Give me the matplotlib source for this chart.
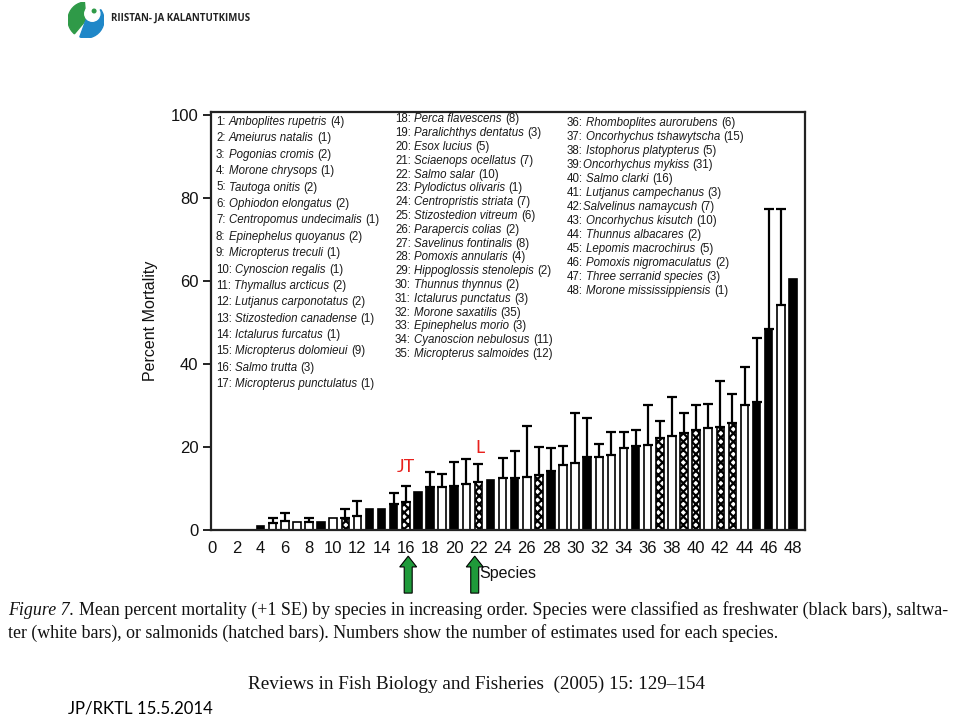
import matplotlib
matplotlib.use('Agg')
import matplotlib.pyplot as plt
from matplotlib.patches import FancyArrow, Wedge, Circle
import numpy as np

# species (ordered by increasing mortality) and number of estimates
species = ['Amboplites rupetris', 'Ameiurus natalis', 'Pogonias cromis', 'Morone chrysops',
           'Tautoga onitis', 'Ophiodon elongatus', 'Centropomus undecimalis', 'Epinephelus quoyanus',
           'Micropterus treculi', 'Cynoscion regalis', 'Thymallus arcticus', 'Lutjanus carponotatus',
           'Stizostedion canadense', 'Ictalurus furcatus', 'Micropterus dolomieui', 'Salmo trutta',
           'Micropterus punctulatus', 'Perca flavescens', 'Paralichthys dentatus', 'Esox lucius',
           'Sciaenops ocellatus', 'Salmo salar', 'Pylodictus olivaris', 'Centropristis striata',
           'Stizostedion vitreum', 'Parapercis colias', 'Savelinus fontinalis', 'Pomoxis annularis',
           'Hippoglossis stenolepis', 'Thunnus thynnus', 'Ictalurus punctatus', 'Morone saxatilis',
           'Epinephelus morio', 'Cyanoscion nebulosus', 'Micropterus salmoides', 'Rhomboplites aurorubens',
           'Oncorhychus tshawytscha', 'Istophorus platypterus', 'Oncorhychus mykiss', 'Salmo clarki',
           'Lutjanus campechanus', 'Salvelinus namaycush', 'Oncorhychus kisutch', 'Thunnus albacares',
           'Lepomis macrochirus', 'Pomoxis nigromaculatus', 'Three serranid species', 'Morone mississippiensis']
n_est = [4, 1, 2, 1, 2, 2, 1, 2, 1, 1, 2, 2, 1, 1, 9, 3, 1,
         8, 3, 5, 7, 10, 1, 7, 6, 2, 8, 4, 2, 2, 3, 35, 3, 11, 12,
         6, 15, 5, 31, 16, 3, 7, 10, 2, 5, 2, 3, 1]
# f = freshwater (black), s = saltwater (white), h = salmonid (hatched)
habitat = ['s', 's', 's', 'f', 's', 's', 's', 's', 'f', 's', 'h', 's', 'f', 'f', 'f', 'h',
           'f', 'f', 's', 'f', 's', 'h', 'f', 's', 'f', 's', 'h', 'f', 's', 's', 'f', 's',
           's', 's', 'f', 's', 'h', 's', 'h', 'h', 's', 'h', 'h', 's', 'f', 'f', 's', 'f']
mean_mort = [0, 0, 0, 0.9, 1.6, 2.2, 1.9, 2.0, 1.9, 2.8, 2.9, 3.4, 5.1, 5.1, 6.2, 6.8,
             9.1, 10.3, 10.3, 10.5, 11.1, 11.6, 12.0, 12.6, 12.6, 12.8, 13.3, 14.2, 15.7, 16.1, 17.6, 17.5,
             18.1, 19.7, 20.2, 20.4, 22.2, 22.6, 23.4, 24.1, 24.6, 24.9, 25.8, 30.1, 30.8, 48.4, 54.2, 60.4]
se_mort = [0, 0, 0, 0, 1.4, 1.8, 0, 0.9, 0, 0, 2.1, 3.7, 0, 0, 2.7, 3.8,
           0, 3.7, 3.3, 6.0, 6.1, 4.4, 0, 4.7, 6.4, 12.3, 6.7, 5.5, 4.5, 12.2, 9.5, 3.1,
           5.6, 3.8, 3.8, 9.7, 4.0, 9.4, 4.7, 5.9, 5.7, 11.0, 7.0, 9.1, 15.5, 28.9, 23.1, 0]
no_space = [39, 42]  # legend entries printed without a space after the colon

W, H = 960, 716
plt.rcParams['font.family'] = 'Liberation Sans'
plt.rcParams['hatch.linewidth'] = 1.6

fig = plt.figure(figsize=(W / 100, H / 100), dpi=100)
ax = fig.add_axes([211 / W, 1 - 530 / H, (805 - 211) / W, (530 - 112) / H])

x = np.arange(1, 49)
mean_mort = np.array(mean_mort)
se_mort = np.array(se_mort)
hab = np.array(habitat)

for h, fc, hatch in [('f', 'black', None), ('s', 'white', None), ('h', 'white', 'xxxx')]:
    m = hab == h
    ax.bar(x[m], mean_mort[m], width=0.62, color=fc, edgecolor='black',
           linewidth=1.2, hatch=hatch, zorder=2)

m = se_mort > 0
ax.errorbar(x[m], mean_mort[m], yerr=[np.zeros(m.sum()), se_mort[m]], fmt='none',
            ecolor='black', elinewidth=1.6, capsize=3.5, capthick=1.6, zorder=3)

ax.set_xlim(-0.1, 49)
ax.set_ylim(0, 100.7)
ax.set_xticks(np.arange(0, 49, 2))
ax.set_yticks(np.arange(0, 101, 20))
ax.tick_params(axis='x', length=0, pad=8, labelsize=12, colors='#111111')
ax.tick_params(axis='y', length=6, width=1.3, pad=3, labelsize=12, colors='#111111')
for s in ax.spines.values():
    s.set_linewidth(1.6)
    s.set_color('#222222')
ax.set_ylabel('Percent Mortality', fontsize=11.5, color='#111111')
ax.yaxis.set_label_coords(-0.089, 0.5)
ax.set_xlabel('Species', fontsize=11.5, color='#111111', va='center')
ax.xaxis.set_label_coords(0.5, -0.103)

# red labels and green arrows
ax.text(16, 15.2, 'JT', color='#e8211d', fontsize=13, family='Lato', ha='center', va='center')
ax.text(22.1, 19.8, 'L', color='#e8211d', fontsize=13, family='Lato', ha='center', va='center')
for xa in [16.2, 21.7]:
    ax.add_patch(FancyArrow(xa, -15.2, 0, 8.9, width=0.66, head_width=1.4, head_length=2.6,
                            length_includes_head=True, facecolor='#1f9a3a', edgecolor='black',
                            linewidth=0.8, clip_on=False, zorder=5))

# legend of species names inside the axes
renderer = fig.canvas.get_renderer()


def text_width(s, **kw):
    t = fig.text(0, 0, s, **kw)
    w = t.get_window_extent(renderer).width
    t.remove()
    return w


def rich(px, py, parts, **kw):
    gap = text_width('a a', **kw) - text_width('aa', **kw)
    for s, style, space in parts:
        t = fig.text(px / W, 1 - py / H, s, style=style, va='baseline', **kw)
        px += t.get_window_extent(renderer).width + (gap if space else 0)


legend_kw = dict(fontsize=8.3, color='#1a1a1a', family='Liberation Sans')
cols = [(range(1, 18), 216, 121, 16.4), (range(18, 36), 395, 118.5, 13.8), (range(36, 49), 567, 122, 14.0)]
for nums, x0, y0, dy in cols:
    for k, i in enumerate(nums):
        parts = [('%d:' % i, 'normal', i not in no_space),
                 (species[i - 1], 'italic', True),
                 ('(%d)' % n_est[i - 1], 'normal', False)]
        rich(x0, y0 + k * dy + 3.9, parts, **legend_kw)

# caption
cap_kw = dict(fontsize=12.9, color='#111111', family='Liberation Serif')
rich(8, 615, [('Figure 7.', 'italic', True),
              ('Mean percent mortality (+1 SE) by species in increasing order. Species were classified '
               'as freshwater (black bars), saltwa-', 'normal', False)], **cap_kw)
rich(8, 638, [('ter (white bars), or salmonids (hatched bars). Numbers show the number of estimates '
               'used for each species.', 'normal', False)], **cap_kw)
fig.text(248 / W, 1 - 689 / H, 'Reviews in Fish Biology and Fisheries  (2005) 15: 129\u2013154',
         fontsize=13.8, family='Liberation Serif', color='#111111', va='baseline')
fig.text(68 / W, 1 - 713 / H, 'JP/RKTL 15.5.2014', fontsize=12.1, family='Lato', color='black',
         va='baseline')

# logo
lax = fig.add_axes([68 / W, 1 - 38 / H, 36 / W, 36 / H])
lax.set_xlim(-1, 1)
lax.set_ylim(-1, 1)
lax.set_aspect('equal')
lax.axis('off')
lax.add_patch(Wedge((0, 0), 1, 95, 230, color='#2f9a48'))
lax.add_patch(Wedge((0, 0), 1, 250, 35, color='#1f87c8'))
lax.add_patch(Circle((0.35, 0.35), 0.42, color='white'))
lax.add_patch(Circle((0.45, 0.5), 0.1, color='#2f9a48'))
fig.text(111 / W, 1 - 21 / H, 'RIISTAN- JA KALANTUTKIMUS', fontsize=6.9, family='Open Sans',
         weight='bold', color='#222222', va='baseline')

fig.savefig('out.png', dpi=100)
